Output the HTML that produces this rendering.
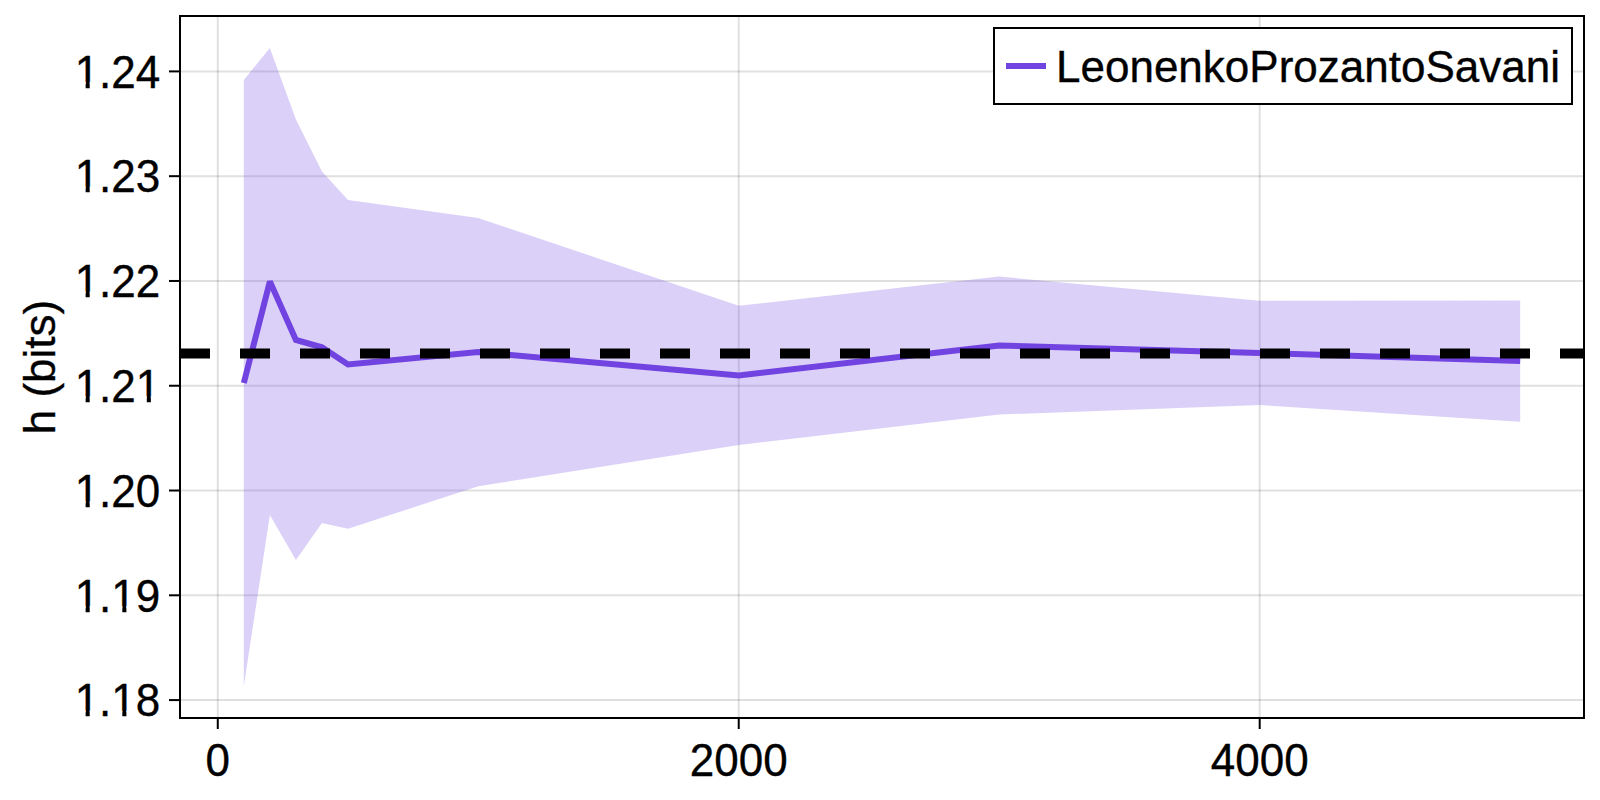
<!DOCTYPE html>
<html><head><meta charset="utf-8"><title>plot</title>
<style>
html,body{margin:0;padding:0;background:#fff;}
svg{display:block;}
text{font-family:"Liberation Sans",sans-serif;font-size:44px;fill:#000;font-kerning:none;stroke:#000;stroke-width:0.35px;}
</style></head><body>
<svg width="1600" height="800" viewBox="0 0 1600 800">
<rect width="1600" height="800" fill="#fff"/>
<defs><clipPath id="ax"><rect x="180" y="16" width="1404" height="702"/></clipPath></defs>
<g stroke="#000" stroke-opacity="0.12" stroke-width="2" fill="none">
<line x1="217.77" y1="16" x2="217.77" y2="718"/>
<line x1="738.73" y1="16" x2="738.73" y2="718"/>
<line x1="1259.70" y1="16" x2="1259.70" y2="718"/>
<line x1="180" y1="71.40" x2="1584" y2="71.40"/>
<line x1="180" y1="176.18" x2="1584" y2="176.18"/>
<line x1="180" y1="280.96" x2="1584" y2="280.96"/>
<line x1="180" y1="385.74" x2="1584" y2="385.74"/>
<line x1="180" y1="490.52" x2="1584" y2="490.52"/>
<line x1="180" y1="595.30" x2="1584" y2="595.30"/>
<line x1="180" y1="700.08" x2="1584" y2="700.08"/>
</g>
<g clip-path="url(#ax)">
<polygon fill="#7143E0" fill-opacity="0.25" points="243.82,80.00 269.87,47.90 295.91,119.50 321.96,171.50 348.01,200.00 478.25,218.00 738.73,305.75 999.22,276.60 1259.70,300.70 1520.18,300.50 1520.18,421.80 1259.70,405.00 999.22,414.50 738.73,445.00 478.25,486.25 348.01,528.70 321.96,522.90 295.91,559.90 269.87,515.05 243.82,686.10"/>
<polyline fill="none" stroke="#7143E0" stroke-width="6" stroke-linejoin="miter" stroke-miterlimit="2" points="243.82,383.00 269.87,281.40 295.91,340.00 321.96,347.30 348.01,364.40 478.25,352.00 738.73,375.50 999.22,345.40 1259.70,352.90 1520.18,361.10"/>
<line x1="180" y1="353.4" x2="1584" y2="353.4" stroke="#000" stroke-width="10" stroke-dasharray="30 30"/>
</g>
<rect x="180" y="16" width="1404" height="702" fill="none" stroke="#000" stroke-width="2"/>
<g stroke="#000" stroke-width="2">
<line x1="169" y1="71.40" x2="179" y2="71.40"/>
<line x1="169" y1="176.18" x2="179" y2="176.18"/>
<line x1="169" y1="280.96" x2="179" y2="280.96"/>
<line x1="169" y1="385.74" x2="179" y2="385.74"/>
<line x1="169" y1="490.52" x2="179" y2="490.52"/>
<line x1="169" y1="595.30" x2="179" y2="595.30"/>
<line x1="169" y1="700.08" x2="179" y2="700.08"/>
<line x1="217.77" y1="719" x2="217.77" y2="729"/>
<line x1="738.73" y1="719" x2="738.73" y2="729"/>
<line x1="1259.70" y1="719" x2="1259.70" y2="729"/>
</g>
<text transform="translate(74.66 87.60) scale(1 1.033)">1.24</text>
<rect x="77.01" y="82.00" width="8.61" height="7.80" fill="#fff"/>
<rect x="89.72" y="82.00" width="8.37" height="7.80" fill="#fff"/>
<text transform="translate(74.66 192.38) scale(1 1.033)">1.23</text>
<rect x="77.01" y="186.78" width="8.61" height="7.80" fill="#fff"/>
<rect x="89.72" y="186.78" width="8.37" height="7.80" fill="#fff"/>
<text transform="translate(74.66 297.16) scale(1 1.033)">1.22</text>
<rect x="77.01" y="291.56" width="8.61" height="7.80" fill="#fff"/>
<rect x="89.72" y="291.56" width="8.37" height="7.80" fill="#fff"/>
<text transform="translate(74.66 401.94) scale(1 1.033)">1.21</text>
<rect x="77.01" y="396.34" width="8.61" height="7.80" fill="#fff"/>
<rect x="89.72" y="396.34" width="8.37" height="7.80" fill="#fff"/>
<rect x="138.18" y="396.34" width="8.61" height="7.80" fill="#fff"/>
<rect x="150.88" y="396.34" width="8.37" height="7.80" fill="#fff"/>
<text transform="translate(74.66 506.72) scale(1 1.033)">1.20</text>
<rect x="77.01" y="501.12" width="8.61" height="7.80" fill="#fff"/>
<rect x="89.72" y="501.12" width="8.37" height="7.80" fill="#fff"/>
<text transform="translate(74.66 611.50) scale(1 1.033)">1.19</text>
<rect x="77.01" y="605.90" width="8.61" height="7.80" fill="#fff"/>
<rect x="89.72" y="605.90" width="8.37" height="7.80" fill="#fff"/>
<rect x="113.71" y="605.90" width="8.61" height="7.80" fill="#fff"/>
<rect x="126.41" y="605.90" width="8.37" height="7.80" fill="#fff"/>
<text transform="translate(74.66 716.28) scale(1 1.033)">1.18</text>
<rect x="77.01" y="710.68" width="8.61" height="7.80" fill="#fff"/>
<rect x="89.72" y="710.68" width="8.37" height="7.80" fill="#fff"/>
<rect x="113.71" y="710.68" width="8.61" height="7.80" fill="#fff"/>
<rect x="126.41" y="710.68" width="8.37" height="7.80" fill="#fff"/>
<text transform="translate(205.53 776.20) scale(1 1.033)">0</text>
<text transform="translate(689.79 776.20) scale(1 1.033)">2000</text>
<text transform="translate(1210.76 776.20) scale(1 1.033)">4000</text>
<text transform="translate(55 367) rotate(-90)" text-anchor="middle">h (bits)</text>
<rect x="994" y="28" width="578" height="76" fill="#fff" stroke="#000" stroke-width="2"/>
<line x1="1006" y1="66" x2="1046" y2="66" stroke="#7143E0" stroke-width="6"/>
<text x="1056" y="82.4">LeonenkoProzantoSavani</text>
</svg>
</body></html>
